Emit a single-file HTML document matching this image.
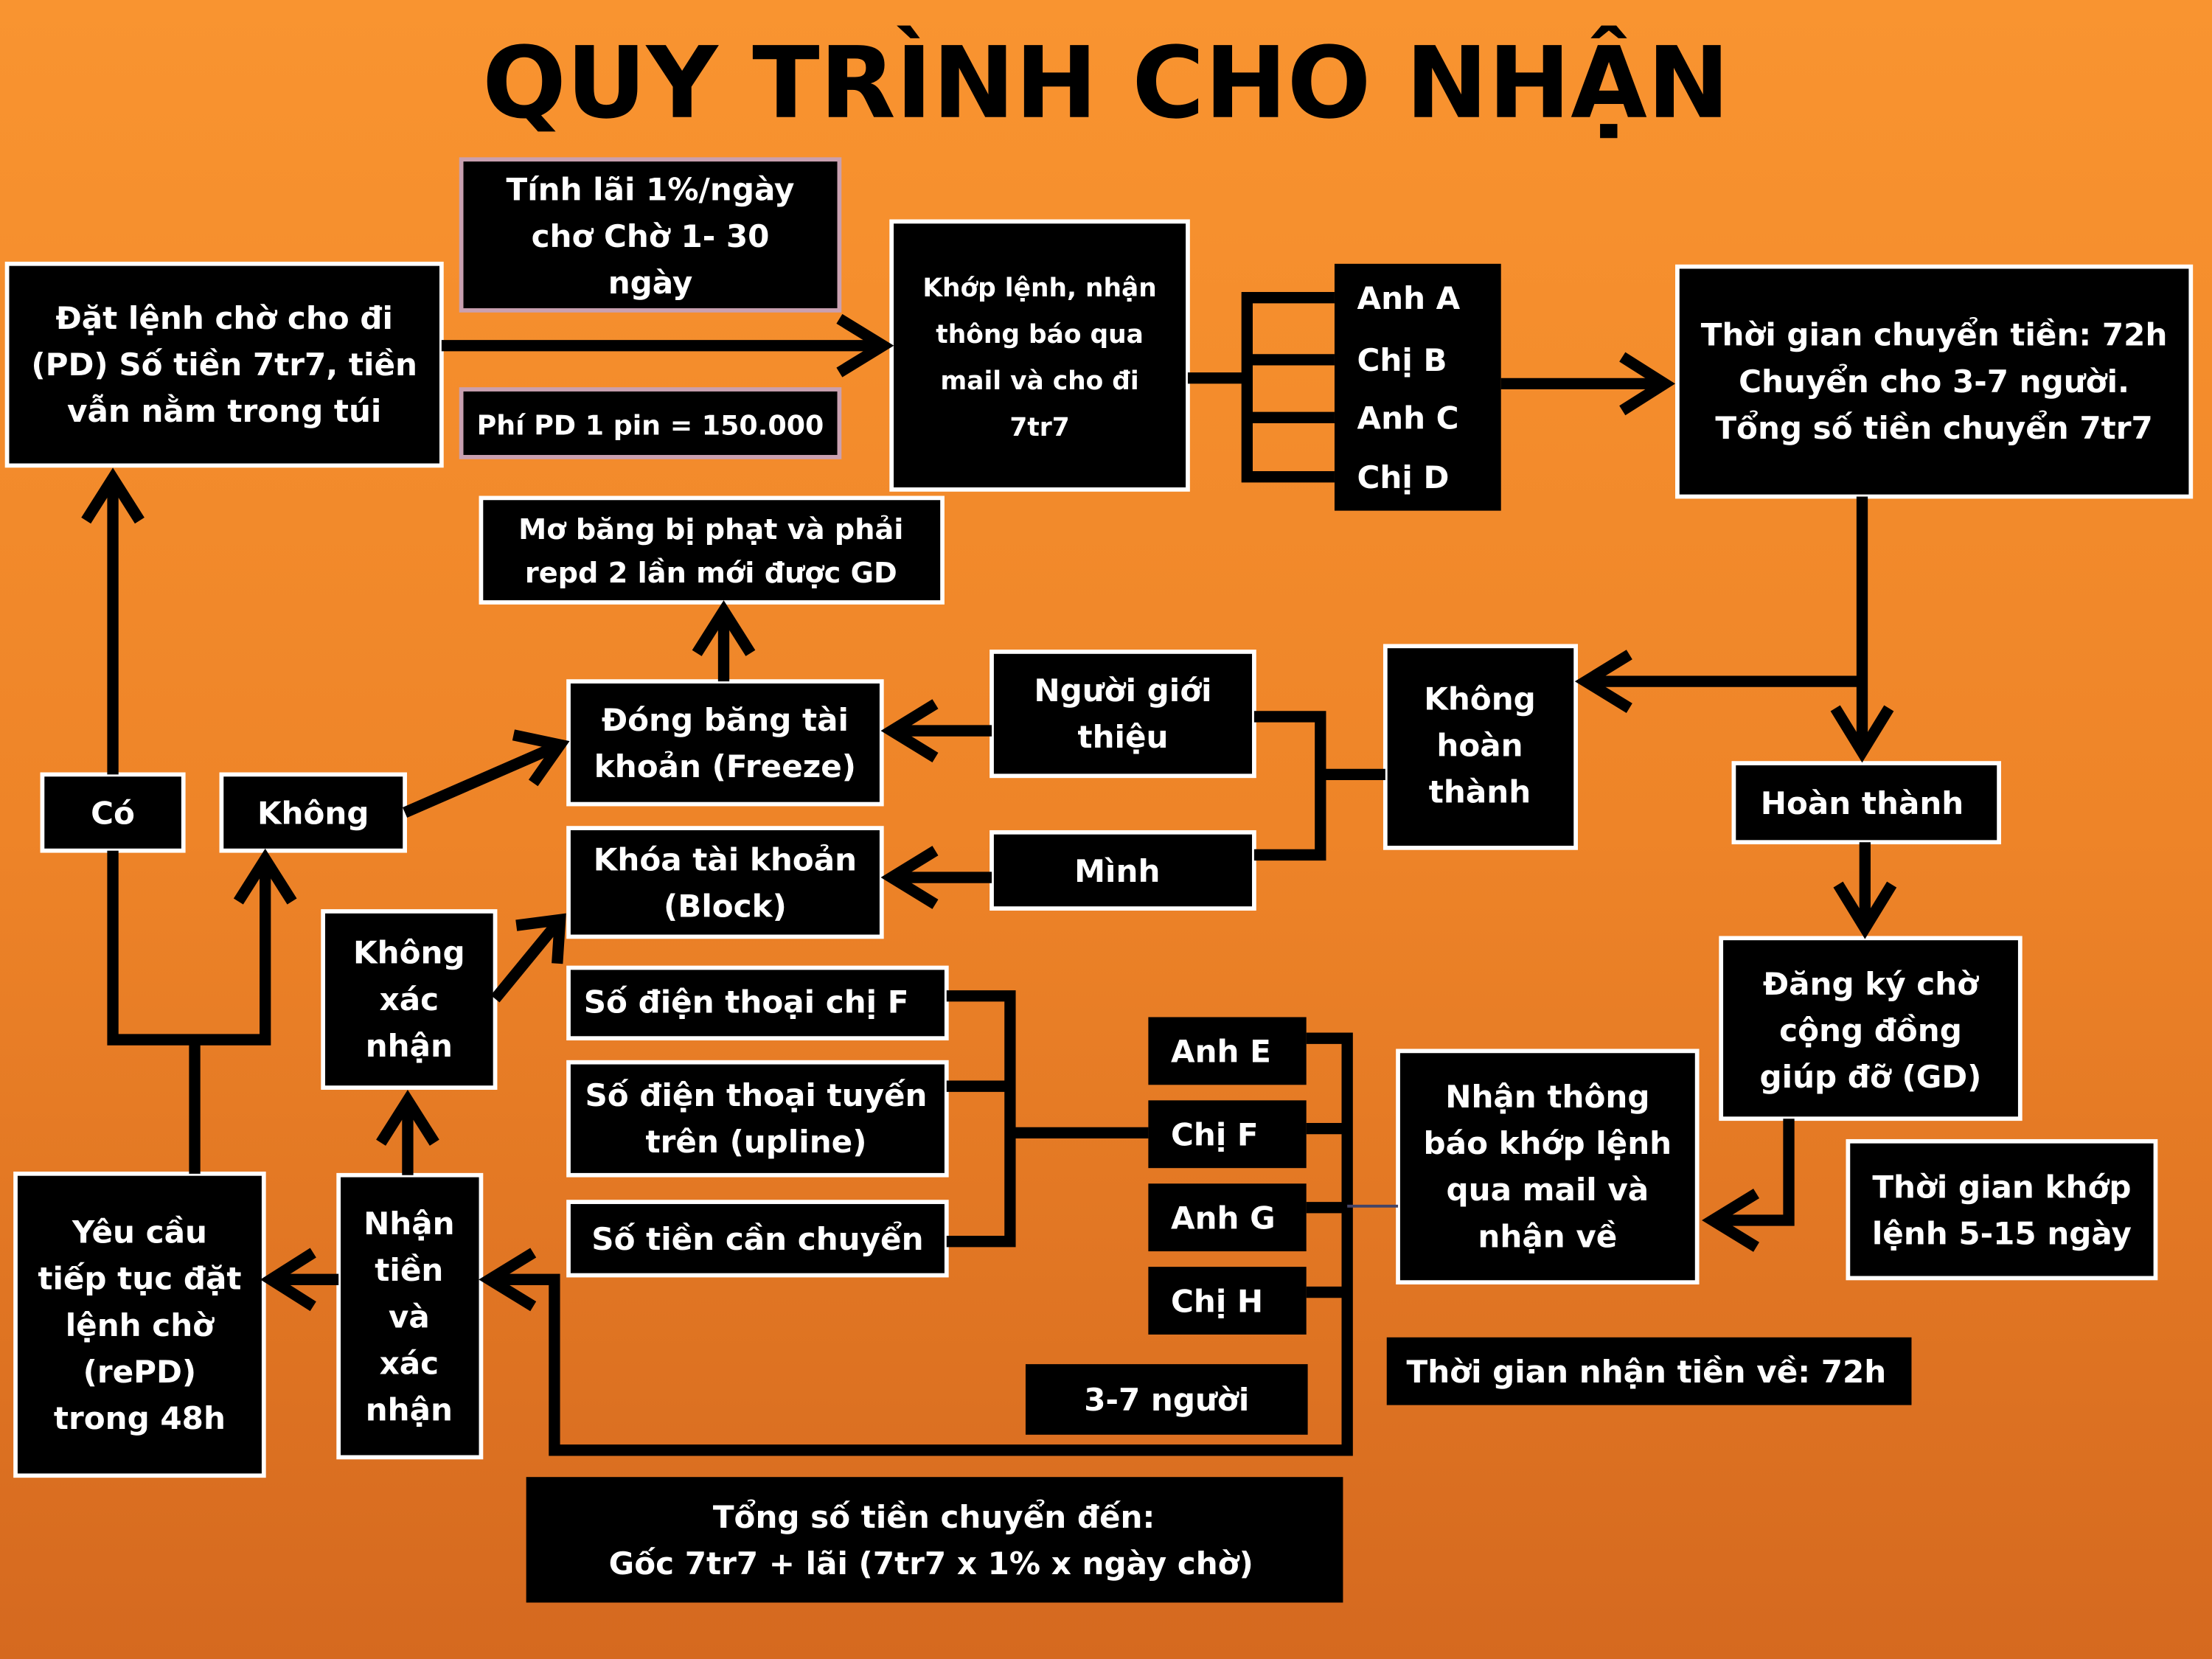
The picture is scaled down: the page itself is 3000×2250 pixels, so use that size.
<!DOCTYPE html>
<html><head><meta charset="utf-8"><style>
html,body{margin:0;padding:0;width:3000px;height:2250px;overflow:hidden}
svg{display:block}
text{font-family:"DejaVu Sans","Liberation Sans",sans-serif;font-weight:bold;fill:#fff}
</style></head><body>
<svg width="3000" height="2250" viewBox="0 0 1568 1176" preserveAspectRatio="none" xmlns="http://www.w3.org/2000/svg">
<defs><linearGradient id="g" x1="0" y1="0" x2="0" y2="1"><stop offset="0" stop-color="#f99430"/><stop offset="0.5" stop-color="#ee8428"/><stop offset="1" stop-color="#d5691f"/></linearGradient></defs>
<rect width="1568" height="1176" fill="url(#g)"/>
<text x="784" y="83" text-anchor="middle" font-size="70" style="fill:#000">QUY TRÌNH CHO NHẬN</text>

<g fill="#000" stroke="#fff" stroke-width="3">
<rect x="5" y="187" width="308" height="143"/>
<rect x="327" y="113" width="268" height="107" stroke="#c9a0b0"/>
<rect x="327" y="276" width="268" height="48" stroke="#c9a0b0"/>
<rect x="632" y="157" width="210" height="190"/>
<rect x="946" y="187" width="118" height="175" stroke="none"/>
<rect x="1189" y="189" width="364" height="163"/>
<rect x="341" y="353" width="327" height="74"/>
<rect x="403" y="483" width="222" height="87"/>
<rect x="703" y="462" width="186" height="88"/>
<rect x="982" y="458" width="135" height="143"/>
<rect x="1229" y="541" width="188" height="56"/>
<rect x="30" y="549" width="100" height="54"/>
<rect x="157" y="549" width="130" height="54"/>
<rect x="403" y="587" width="222" height="77"/>
<rect x="703" y="590" width="186" height="54"/>
<rect x="229" y="646" width="122" height="125"/>
<rect x="403" y="686" width="268" height="50"/>
<rect x="403" y="753" width="268" height="80"/>
<rect x="403" y="852" width="268" height="52"/>
<rect x="814" y="721" width="112" height="48" stroke="none"/>
<rect x="814" y="780" width="112" height="48" stroke="none"/>
<rect x="814" y="839" width="112" height="48" stroke="none"/>
<rect x="814" y="898" width="112" height="48" stroke="none"/>
<rect x="727" y="967" width="200" height="50" stroke="none"/>
<rect x="991" y="745" width="212" height="164"/>
<rect x="1220" y="665" width="212" height="128"/>
<rect x="1310" y="809" width="218" height="97"/>
<rect x="983" y="948" width="372" height="48" stroke="none"/>
<rect x="11" y="832" width="176" height="214"/>
<rect x="240" y="833" width="101" height="200"/>
<rect x="373" y="1047" width="579" height="89" stroke="none"/>
</g>

<g stroke="#000" stroke-width="8" fill="none" stroke-linecap="butt">
<path d="M313 245H626"/><path d="M595 226L626 245L595 264"/>
<path d="M842 268H884M884 211V338M880 211H946M880 255H946M880 296H946M880 338H946"/>
<path d="M1064 272H1180"/><path d="M1150 253L1180 272L1150 291"/>
<path d="M1320 352V533"/><path d="M1301 502L1320 533L1339 502"/>
<path d="M1320 483H1124"/><path d="M1155 464L1124 483L1155 502"/>
<path d="M1322 597V658"/><path d="M1303 627L1322 658L1341 627"/>
<path d="M1268 793V865H1214"/><path d="M1245 846L1214 865L1245 884"/>
<path d="M982 549H936M936 504V610M889 508H940M889 606H940"/>
<path d="M703 518H632"/><path d="M663 499L632 518L663 537"/>
<path d="M703 622H632"/><path d="M663 603L632 622L663 641"/>
<path d="M513 483V433"/><path d="M494 463L513 433L532 463"/>
<path d="M287 576L397 528"/><path d="M364 521L397 528L378 555"/>
<path d="M351 708L397 652"/><path d="M366 656L397 652L395 683"/>
<path d="M289 833V780"/><path d="M270 810L289 780L308 810"/>
<path d="M240 907H192"/><path d="M222 888L192 907L222 926"/>
<path d="M138 832V737M76 737H192M80 741V603M80 549V339M188 741V609"/>
<path d="M61 369L80 339L99 369"/><path d="M169 639L188 609L207 639"/>
<path d="M671 706H716M716 702V884M671 770H716M671 880H716M716 803H814"/>
<path d="M926 736H955M955 732V1032M926 800H955M926 856H955M926 916H955"/>
<path d="M955 1028H393V907H347"/><path d="M378 888L347 907L378 926"/>
</g>
<path d="M955 855H991" stroke="#446" stroke-width="2"/>

<g font-size="22" text-anchor="middle">
<text x="159" y="233">Đặt lệnh chờ cho đi</text><text x="159" y="266">(PD) Số tiền 7tr7, tiền</text><text x="159" y="299">vẫn nằm trong túi</text>
<text x="461" y="142">Tính lãi 1%/ngày</text><text x="461" y="175">chơ  Chờ 1- 30</text><text x="461" y="208">ngày</text>
<text x="461" y="308" font-size="19">Phí PD 1 pin = 150.000</text>
<g font-size="18"><text x="737" y="210">Khớp lệnh, nhận</text><text x="737" y="243">thông báo qua</text><text x="737" y="276">mail và cho đi</text><text x="737" y="309">7tr7</text></g>
<text x="1371" y="245">Thời gian chuyển tiền: 72h</text><text x="1371" y="278">Chuyển cho 3-7 người.</text><text x="1371" y="311">Tổng số tiền chuyển 7tr7</text>
<g font-size="20"><text x="504" y="382">Mơ băng bị phạt và phải</text><text x="504" y="413">repd 2 lần mới được GD</text></g>
<text x="514" y="518">Đóng băng tài</text><text x="514" y="551">khoản (Freeze)</text>
<text x="796" y="497">Người giới</text><text x="796" y="530">thiệu</text>
<text x="1049" y="503">Không</text><text x="1049" y="536">hoàn</text><text x="1049" y="569">thành</text>
<text x="1320" y="577">Hoàn thành</text>
<text x="80" y="584">Có</text>
<text x="222" y="584">Không</text>
<text x="514" y="617">Khóa tài khoản</text><text x="514" y="650">(Block)</text>
<text x="792" y="625">Mình</text>
<text x="290" y="683">Không</text><text x="290" y="716">xác</text><text x="290" y="749">nhận</text>
<text x="529" y="718">Số điện thoại chị F</text>
<text x="536" y="784">Số điện thoại tuyến</text><text x="536" y="817">trên (upline)</text>
<text x="537" y="886">Số tiền cần chuyển</text>
<text x="827" y="1000">3-7 người</text>
<text x="1097" y="785">Nhận thông</text><text x="1097" y="818">báo khớp lệnh</text><text x="1097" y="851">qua mail và</text><text x="1097" y="884">nhận về</text>
<text x="1326" y="705">Đăng ký chờ</text><text x="1326" y="738">cộng đồng</text><text x="1326" y="771">giúp đỡ (GD)</text>
<text x="1419" y="849">Thời gian khớp</text><text x="1419" y="882">lệnh 5-15 ngày</text>
<text x="99" y="881">Yêu cầu</text><text x="99" y="914">tiếp tục đặt</text><text x="99" y="947">lệnh chờ</text><text x="99" y="980">(rePD)</text><text x="99" y="1013">trong 48h</text>
<text x="290" y="875">Nhận</text><text x="290" y="908">tiền</text><text x="290" y="941">và</text><text x="290" y="974">xác</text><text x="290" y="1007">nhận</text>
<text x="662" y="1083">Tổng số tiền chuyển đến:</text><text x="660" y="1116">Gốc 7tr7 + lãi (7tr7 x 1% x ngày chờ)</text>
</g>
<g font-size="22">
<text x="962" y="219">Anh A</text><text x="962" y="263">Chị B</text><text x="962" y="304">Anh C</text><text x="962" y="346">Chị  D</text>
<text x="830" y="753">Anh E</text><text x="830" y="812">Chị F</text><text x="830" y="871">Anh G</text><text x="830" y="930">Chị H</text>
<text x="997" y="980">Thời gian nhận tiền về: 72h</text>
</g>
</svg>
</body></html>
